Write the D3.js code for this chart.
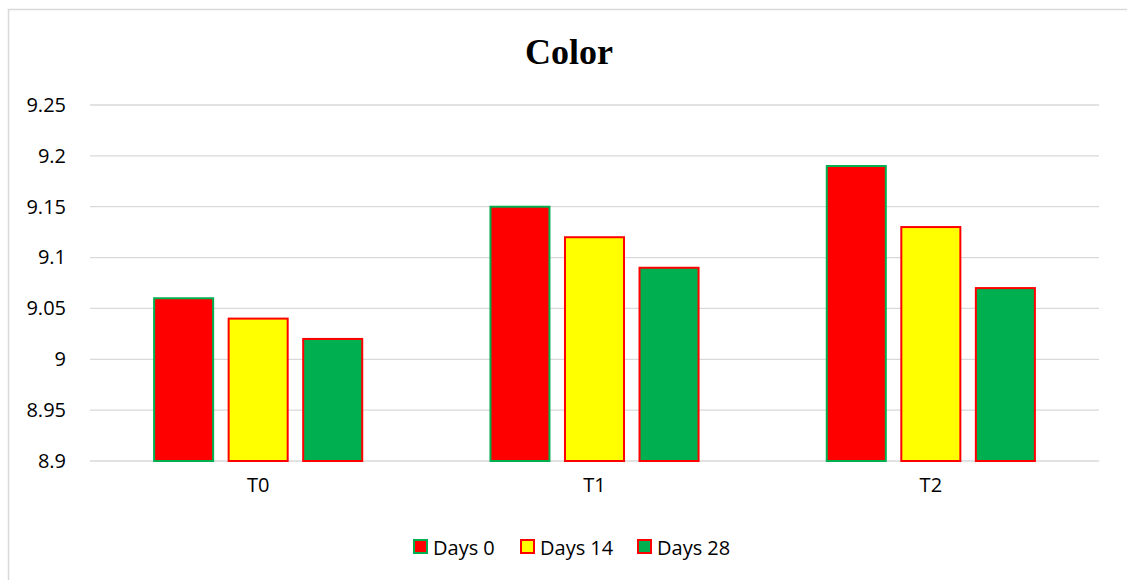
<!DOCTYPE html>
<html>
<head>
<meta charset="utf-8">
<script src="https://cdn.jsdelivr.net/npm/d3@7"></script>
<style>
  html, body { margin: 0; padding: 0; background: #fff; }
  svg { display: block; }
</style>
</head>
<body>
<svg id="chart" width="1127" height="580"></svg>
<script>
// Treatments on the x axis, one bar per storage day inside each group
const categories = ["T0", "T1", "T2"];
const seriesNames = ["Days 0", "Days 14", "Days 28"];
const days0 = [9.06, 9.15, 9.19];
const days14 = [9.04, 9.12, 9.13];
const days28 = [9.02, 9.09, 9.07];
const yTicks = [8.9, 8.95, 9, 9.05, 9.1, 9.15, 9.2, 9.25];

const seriesValues = [days0, days14, days28];
const fills = ["#FF0000", "#FFFF00", "#00B050"];
const strokes = ["#00B050", "#FF0000", "#FF0000"];

const svg = d3.select("#chart");
const W = 1127, H = 580;
const margin = { left: 90, right: 28, top: 105, bottom: 119 };
const plotW = W - margin.left - margin.right;
const plotH = H - margin.top - margin.bottom;
const labelFont = "'Open Sans', 'Liberation Sans', sans-serif";

// chart frame (top and left edges visible)
svg.append("path")
  .attr("d", `M8.5,${H} L8.5,9.5 L${W},9.5`)
  .attr("fill", "none")
  .attr("stroke", "#D9D9D9")
  .attr("stroke-width", 1.5);

svg.append("text")
  .attr("x", 569).attr("y", 64)
  .attr("text-anchor", "middle")
  .attr("font-family", "'Liberation Serif', 'Times New Roman', serif")
  .attr("font-weight", "bold")
  .attr("font-size", 36)
  .attr("fill", "#000")
  .text("Color");

const g = svg.append("g").attr("transform", `translate(${margin.left},${margin.top})`);

const y = d3.scaleLinear().domain([8.9, 9.25]).range([plotH, 0]);
const x0 = d3.scaleBand().domain(categories).range([0, plotW]).paddingInner(0).paddingOuter(0);
const x1 = d3.scaleBand().domain(seriesNames).range([0, x0.bandwidth()])
  .paddingInner(0.208).paddingOuter(0.86);

// gridlines
g.append("g").selectAll("line").data(yTicks).join("line")
  .attr("x1", 0).attr("x2", plotW)
  .attr("y1", d => y(d)).attr("y2", d => y(d))
  .attr("stroke", "#D9D9D9").attr("stroke-width", 1.3);

// y axis labels
const yAxis = d3.axisLeft(y).tickValues(yTicks).tickSize(0).tickPadding(24)
  .tickFormat(d => String(+d.toFixed(2)));
const ya = g.append("g").call(yAxis);
ya.select(".domain").remove();
ya.selectAll("text")
  .attr("font-family", labelFont)
  .attr("font-size", 20).attr("fill", "#000");

// x axis labels
const xAxis = d3.axisBottom(x0).tickSize(0).tickPadding(17);
const xa = g.append("g").attr("transform", `translate(0,${plotH})`).call(xAxis);
xa.select(".domain").remove();
xa.selectAll("text")
  .attr("font-family", labelFont)
  .attr("font-size", 20).attr("fill", "#000");

// bars
const groups = g.append("g").selectAll("g").data(categories).join("g")
  .attr("transform", c => `translate(${x0(c)},0)`);

groups.selectAll("rect")
  .data((c, ci) => seriesNames.map((s, si) => ({ s, si, v: seriesValues[si][ci] })))
  .join("rect")
  .attr("x", d => x1(d.s))
  .attr("width", x1.bandwidth())
  .attr("y", d => y(d.v))
  .attr("height", d => y(8.9) - y(d.v))
  .attr("fill", d => fills[d.si])
  .attr("stroke", d => strokes[d.si])
  .attr("stroke-width", 2);

// legend
const legendX = [414, 521, 638];
const lg = svg.append("g");
seriesNames.forEach((s, i) => {
  lg.append("rect")
    .attr("x", legendX[i]).attr("y", 540)
    .attr("width", 13).attr("height", 13)
    .attr("fill", fills[i]).attr("stroke", strokes[i]).attr("stroke-width", 2);
  lg.append("text")
    .attr("x", legendX[i] + 19).attr("y", 555)
    .attr("font-family", labelFont)
    .attr("font-size", 20).attr("fill", "#000")
    .text(s);
});
</script>
</body>
</html>
